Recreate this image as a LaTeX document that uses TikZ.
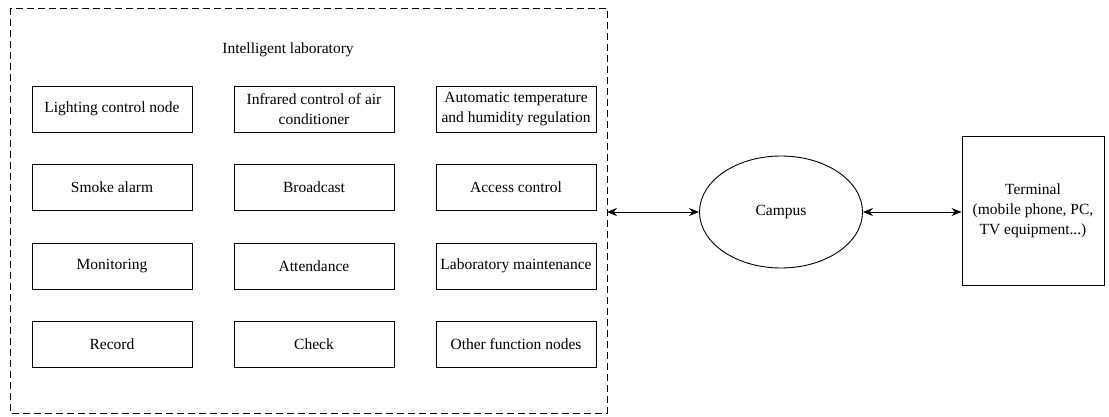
\documentclass[tikz,border=0pt]{standalone}
\usepackage{fontspec}
\setmainfont{Liberation Serif}
\usetikzlibrary{arrows.meta,shapes.geometric}
\begin{document}
\begin{tikzpicture}[x=1pt,y=-1pt,
  fbox/.style={draw,line width=0.9pt,minimum width=160pt,minimum height=46pt,inner sep=1pt,align=center,font=\fontsize{15.5}{20}\selectfont},
  lbl/.style={font=\fontsize{15.5}{20}\selectfont,align=center},
  conn/.style={line width=0.9pt,{Stealth[length=10pt,width=8pt]}-{Stealth[length=10pt,width=8pt]}}]
\useasboundingbox (0,0) rectangle (1109,417);
\draw[line width=0.8pt,dash pattern=on 7pt off 4pt] (10,8) rectangle (607,413);
\coordinate (grpR) at (607,212);
\node[lbl] (title) at (288,50) {Intelligent laboratory};
\node[fbox] (a1) at (112,109) {Lighting control node};
\node[fbox] (a2) at (314,109) {Infrared control of air\\conditioner};
\node[fbox] (a3) at (516,109) {Automatic temperature\\and humidity regulation};
\node[fbox] (b1) at (112,187) {Smoke alarm};
\node[fbox] (b2) at (314,187) {Broadcast};
\node[fbox] (b3) at (516,187) {Access control};
\node[fbox] (c1) at (112,266) {Monitoring};
\node[fbox] (c2) at (314,266) {Attendance};
\node[fbox] (c3) at (516,266) {Laboratory maintenance};
\node[fbox] (d1) at (112,344) {Record};
\node[fbox] (d2) at (314,344) {Check};
\node[fbox] (d3) at (516,344) {Other function nodes};
\node[ellipse,draw,line width=0.9pt,minimum width=163pt,minimum height=112pt,lbl] (campus) at (781,212) {Campus};
\node[draw,line width=0.9pt,minimum width=142pt,minimum height=149pt,lbl,inner sep=0pt] (term) at (1033,211) {Terminal\\(mobile phone, PC,\\TV equipment...)};
\draw[conn] (grpR) -- (campus.west);
\draw[conn] (campus.east) -- (term.west |- campus.east);
\end{tikzpicture}
\end{document}
